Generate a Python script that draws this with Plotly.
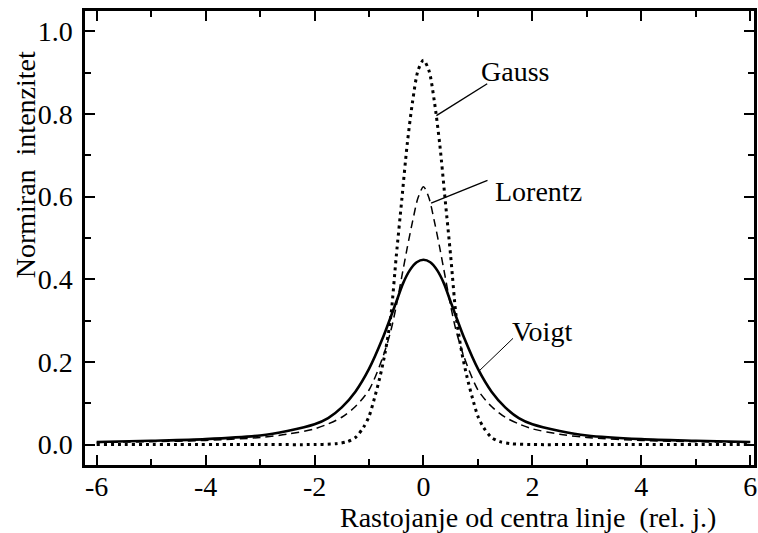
import plotly.graph_objects as go

# Profile samples (relative distance from line centre -> normalised intensity)
gauss_x = [-6, -3, -2, -1.6, -1.4, -1.25, -1.1, -1.0, -0.9, -0.8, -0.7, -0.6, -0.5, -0.4, -0.3, -0.2, -0.1, 0,
           0.1, 0.2, 0.3, 0.4, 0.5, 0.6, 0.7, 0.8, 0.9, 1.0, 1.1, 1.25, 1.4, 1.6, 2, 3, 6]
gauss_y = [0, 0, 0, 0.002, 0.007, 0.017, 0.042, 0.068, 0.112, 0.163, 0.225, 0.31, 0.455, 0.59, 0.725, 0.83, 0.905, 0.93,
           0.905, 0.83, 0.725, 0.59, 0.455, 0.31, 0.225, 0.163, 0.112, 0.068, 0.042, 0.017, 0.007, 0.002, 0, 0, 0]

lorentz_x = [-6, -5, -4, -3, -2.5, -2, -1.75, -1.5, -1.25, -1.0, -0.75, -0.6, -0.5, -0.4, -0.3, -0.2, -0.1, 0,
             0.1, 0.2, 0.3, 0.4, 0.5, 0.6, 0.75, 1.0, 1.25, 1.5, 1.75, 2, 2.5, 3, 4, 5, 6]
lorentz_y = [0.005, 0.007, 0.010, 0.017, 0.025, 0.038, 0.05, 0.066, 0.092, 0.132, 0.21, 0.275, 0.335, 0.405, 0.475, 0.54, 0.597, 0.624,
             0.597, 0.54, 0.475, 0.405, 0.335, 0.275, 0.21, 0.132, 0.092, 0.066, 0.05, 0.038, 0.025, 0.017, 0.010, 0.007, 0.005]

voigt_x = [-6, -5, -4, -3, -2.5, -2, -1.75, -1.5, -1.25, -1.0, -0.75, -0.5, -0.375, -0.25, -0.125, 0,
           0.125, 0.25, 0.375, 0.5, 0.75, 1.0, 1.25, 1.5, 1.75, 2, 2.5, 3, 4, 5, 6]
voigt_y = [0.006, 0.009, 0.013, 0.022, 0.033, 0.049, 0.064, 0.09, 0.128, 0.183, 0.257, 0.345, 0.39, 0.422, 0.441, 0.447,
           0.441, 0.422, 0.39, 0.345, 0.257, 0.183, 0.128, 0.09, 0.064, 0.049, 0.033, 0.022, 0.013, 0.009, 0.006]

x_tick_vals = [-6, -4, -2, 0, 2, 4, 6]
x_tick_text = ["-6", "-4", "-2", "0", "2", "4", "6"]
y_tick_vals = [0.0, 0.2, 0.4, 0.6, 0.8, 1.0]
y_tick_text = ["0.0", "0.2", "0.4", "0.6", "0.8", "1.0"]

FONT = "Liberation Serif"

fig = go.Figure()
fig.add_trace(go.Scatter(x=gauss_x, y=gauss_y, mode="lines", name="Gauss",
                         line=dict(color="black", width=3, dash="3px,4px", shape="spline", smoothing=0.8)))
fig.add_trace(go.Scatter(x=lorentz_x, y=lorentz_y, mode="lines", name="Lorentz",
                         line=dict(color="black", width=1.5, dash="8px,5px", shape="spline", smoothing=0.8)))
fig.add_trace(go.Scatter(x=voigt_x, y=voigt_y, mode="lines", name="Voigt",
                         line=dict(color="black", width=2.6, shape="spline", smoothing=0.8)))

# Curve labels with leader lines
labels = [
    ("Gauss", 1.02, 0.902, (0.237, 0.796, 1.17, 0.873), 1.4),
    ("Lorentz", 1.28, 0.612, (0.14, 0.584, 1.175, 0.639), 1.4),
    ("Voigt", 1.59, 0.274, (1.005, 0.176, 1.644, 0.257), 1.0),
]
for text, tx, ty, (x0, y0, x1, y1), lw in labels:
    fig.add_shape(type="line", x0=x0, y0=y0, x1=x1, y1=y1, xref="x", yref="y",
                  line=dict(color="black", width=lw))
    fig.add_annotation(x=tx, y=ty, xref="x", yref="y", text=text, showarrow=False,
                       xanchor="left", yanchor="middle", font=dict(family=FONT, size=28, color="black"))

# Axis titles
fig.add_annotation(xref="paper", yref="paper", x=(530 - 85) / 672, y=-(517 - 465) / 454,
                   text="Rastojanje od centra linje  (rel. j.)", showarrow=False,
                   xanchor="center", yanchor="middle", font=dict(family=FONT, size=28, color="black"))
fig.add_annotation(xref="paper", yref="paper", x=-(85 - 25) / 672, y=(465 - 165) / 454,
                   text="Normiran  intenzitet", textangle=-90, showarrow=False,
                   xanchor="center", yanchor="middle", font=dict(family=FONT, size=28, color="black"))

axis_common = dict(showgrid=False, zeroline=False, showline=True, linecolor="black", linewidth=2.5,
                   ticks="inside", ticklen=10, tickwidth=2, tickcolor="black",
                   tickfont=dict(family=FONT, size=28, color="black"))

fig.update_xaxes(range=[-6.214, 6.068], tickvals=x_tick_vals, ticktext=x_tick_text, mirror="allticks",
                 minor=dict(dtick=1, tick0=0, ticks="inside", ticklen=6, tickwidth=2, tickcolor="black"),
                 ticklabelstandoff=-5, **axis_common)
fig.update_yaxes(range=[-0.0495, 1.049], tickvals=y_tick_vals, ticktext=y_tick_text, mirror="ticks",
                 minor=dict(dtick=0.1, tick0=0, ticks="inside", ticklen=6, tickwidth=2, tickcolor="black"),
                 ticklabelstandoff=4, **axis_common)

fig.update_layout(width=758, height=533, margin=dict(l=85, r=1, t=11, b=68),
                  paper_bgcolor="white", plot_bgcolor="white", showlegend=False,
                  font=dict(family=FONT, color="black"))

fig.write_html("out.html")
